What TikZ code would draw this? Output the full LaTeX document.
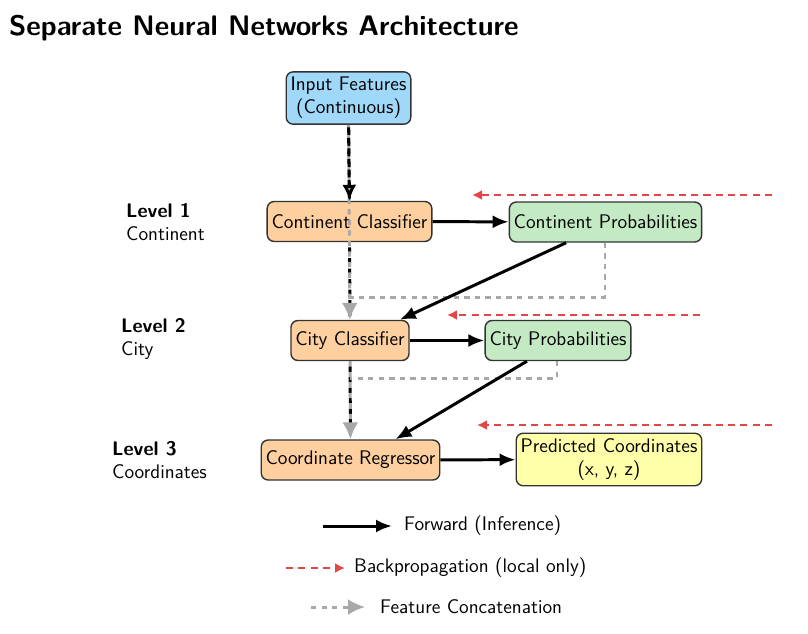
\documentclass[tikz,border=0pt]{standalone}
\definecolor{InBlue}{RGB}{160, 216, 250}
\definecolor{ClsOrange}{RGB}{254, 208, 160}
\definecolor{ProbGreen}{RGB}{196, 234, 196}
\definecolor{OutYellow}{RGB}{255, 255, 170}
\definecolor{BpRed}{RGB}{226, 70, 70}
\definecolor{CcGrey}{RGB}{168, 168, 168}
\usepackage{tikz}
\usetikzlibrary{arrows.meta, positioning, calc}

\begin{document}
\begin{tikzpicture}[font=\sffamily\fontsize{11.2}{13.2}\selectfont,
	bx/.style={rectangle, rounded corners=4pt, draw=black!80, thick, align=center, inner xsep=2.5pt, inner ysep=3pt, minimum height=0.8cm},
	fw/.style={-{Latex[length=3.2mm, width=2.6mm]}, line width=1.7pt, black},
	bp/.style={-{Latex[length=2mm, width=2mm]}, line width=1.2pt, BpRed, dash pattern=on 4pt off 3pt},
	cc/.style={-{Latex[length=3.4mm, width=3.2mm]}, line width=1.7pt, CcGrey, dash pattern=on 3pt off 3pt},
	sk/.style={line width=1.7pt, black, dash pattern=on 3pt off 3pt, dash phase=3pt},
	lv/.style={align=left, anchor=west}]
	\useasboundingbox (0,0) rectangle (16.16,-12.66);
	% title
	\node[anchor=west, font=\sffamily\fontsize{16.1}{19}\selectfont\bfseries] (title) at (0.06,-0.56) {Separate Neural Networks Architecture};
	% nodes
	\node[bx, fill=InBlue] (inp) at (6.97,-1.96) {Input Features\\(Continuous)};
	\node[bx, fill=ClsOrange] (cont) at (6.99,-4.43) {Continent Classifier};
	\node[bx, fill=ProbGreen] (cprob) at (12.11,-4.44) {Continent Probabilities};
	\node[bx, fill=ClsOrange] (city) at (7.0,-6.81) {City Classifier};
	\node[bx, fill=ProbGreen] (yprob) at (11.16,-6.81) {City Probabilities};
	\node[bx, fill=ClsOrange] (reg) at (7.01,-9.2) {Coordinate Regressor};
	\node[bx, fill=OutYellow] (pred) at (12.18,-9.19) {Predicted Coordinates\\(x, y, z)};
	% level labels
	\node[lv] (l1) at (2.4,-4.44) {\textbf{Level 1}\\Continent};
	\node[lv] (l2) at (2.3,-6.78) {\textbf{Level 2}\\City};
	\node[lv] (l3) at (2.12,-9.2) {\textbf{Level 3}\\Coordinates};
	% feature path
	\draw[sk] (inp) -- (cont);
	\draw[sk] (cont) -- (city);
	\draw[sk] (city) -- (reg);
	\draw[cc] (inp) -- (city);
	\draw[cc] (city) -- (reg);
	\draw[cc, -] (cprob.south -| 12.1,0) |- (6.99,-5.94);
	\draw[cc, -] (yprob.south -| 11.14,0) |- (6.99,-7.56);
	\draw[-{Latex[open, length=3.2mm, width=2.8mm]}, line width=1.7pt, black, dash pattern=on 3pt off 3pt] ($(inp.south)+(0,-0.05)$) -- (cont.north);
	% forward
	\draw[fw] (cont) -- (cprob);
	\draw[fw] (city) -- (yprob);
	\draw[fw] (reg) -- (pred);
	\draw[fw] (cprob.south west) ++(1.15,0) coordinate (c1) -- ($(city.north east)+(-0.2,0)$);
	\draw[fw] (yprob.south west) ++(0.85,0) coordinate (c2) -- ($(reg.north east)+(-0.9,0)$);
	% backprop
	\coordinate (b1s) at (15.44,-3.9); \coordinate (b1e) at (9.44,-3.9);
	\coordinate (b2s) at (14.0,-6.3);  \coordinate (b2e) at (8.94,-6.3);
	\coordinate (b3s) at (15.44,-8.5); \coordinate (b3e) at (9.54,-8.5);
	\draw[bp] (b1s) -- (b1e);
	\draw[bp] (b2s) -- (b2e);
	\draw[bp] (b3s) -- (b3e);
	% legend
	\coordinate (g1a) at (6.46,-10.52); \coordinate (g1b) at (7.84,-10.52);
	\coordinate (g2a) at (5.72,-11.36); \coordinate (g2b) at (6.9,-11.36);
	\coordinate (g3a) at (6.22,-12.14); \coordinate (g3b) at (7.3,-12.14);
	\draw[fw] (g1a) -- (g1b);
	\draw[bp] (g2a) -- (g2b);
	\draw[cc] (g3a) -- (g3b);
	\node[anchor=west] (t1) at (7.96,-10.52) {Forward (Inference)};
	\node[anchor=west] (t2) at (6.96,-11.36) {Backpropagation (local only)};
	\node[anchor=west] (t3) at (7.48,-12.14) {Feature Concatenation};
\end{tikzpicture}
\end{document}
